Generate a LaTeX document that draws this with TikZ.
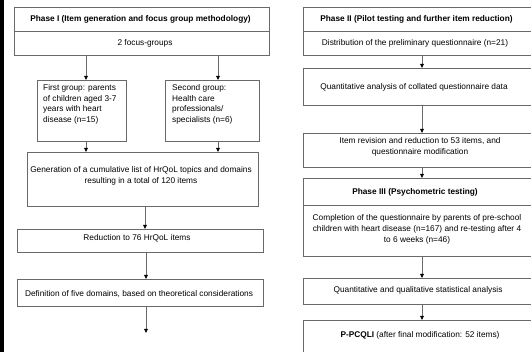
\documentclass[tikz,border=0pt]{standalone}
\usepackage{fontspec}
\setmainfont{Liberation Sans}
\usetikzlibrary{arrows.meta}
\definecolor{boxgray}{RGB}{105,105,105}
\begin{document}
\begin{tikzpicture}[x=1pt,y=-1pt,
  box/.style={draw=boxgray, line width=0.8pt, inner sep=0pt, anchor=north west},
  txt/.style={font=\fontsize{8.3}{11}\selectfont, align=center, inner sep=0pt},
  ltxt/.style={font=\fontsize{8.3}{10.6}\selectfont, align=left, inner sep=0pt, anchor=north west},
  divline/.style={draw=boxgray, line width=0.8pt},
  arr/.style={draw=boxgray, line width=0.8pt, -{Triangle[length=4pt,width=3.6pt,color=black]}}]
\useasboundingbox (0,0) rectangle (531,352);
\fill[black] (0,0) rectangle (4,352);
% ---------- left column ----------
\node[box, minimum width=255pt, minimum height=48pt] (p1) at (14,7) {};
\coordinate (d1) at (0,31);
\draw[divline] (p1.west |- d1) -- (p1.east |- d1);
\node[txt] (p1t) at (140.5,19) {\bfseries Phase I (Item generation and focus group methodology)};
\node[txt] (p1s) at (145,43) {2 focus-groups};
\node[box, minimum width=89pt, minimum height=61pt] (g1) at (37,80) {};
\node[ltxt] (g1t) at (43,84.5) {First group: parents\\of children aged 3-7\\years with heart\\disease (n=15)};
\node[box, minimum width=94pt, minimum height=61pt] (g2) at (165,80) {};
\node[ltxt] (g2t) at (172,84.5) {Second group:\\Health care\\professionals/\\specialists (n=6)};
\node[box, minimum width=231pt, minimum height=54pt] (gen) at (27,152) {};
\node[txt] (gent) at (141,175.5) {Generation of a cumulative list of HrQoL topics and domains\\resulting in a total of 120 items};
\node[box, minimum width=246pt, minimum height=23pt] (red) at (17,229) {};
\node[txt] (redt) at (137,238) {Reduction to 76 HrQoL items};
\node[box, minimum width=246pt, minimum height=27pt] (def) at (17,279) {};
\node[txt] (deft) at (139,294) {Definition of five domains, based on theoretical considerations};
\coordinate (ax1) at (86,0);
\coordinate (ax2) at (218,0);
\coordinate (ax3) at (145,0);
\coordinate (ax4) at (146,0);
\coordinate (lend) at (146,333);
\draw[arr] (p1.south -| ax1) -- (g1.north -| ax1);
\draw[arr] (p1.south -| ax2) -- (g2.north -| ax2);
\draw[arr] (g1.south -| ax1) -- (gen.north -| ax1);
\draw[arr] (g2.south -| ax2) -- (gen.north -| ax2);
\draw[arr] (gen.south -| ax3) -- (red.north -| ax3);
\draw[arr] (red.south -| ax4) -- (def.north -| ax4);
\draw[arr] (def.south -| ax4) -- (lend);
% ---------- right column ----------
\node[box, minimum width=233pt, minimum height=48pt] (p2) at (303,7) {};
\draw[divline] (p2.west |- d1) -- (p2.east |- d1);
\node[txt] (p2t) at (416.5,19) {\bfseries Phase II (Pilot testing and further item reduction)};
\node[txt] (p2s) at (415,43) {Distribution of the preliminary questionnaire (n=21)};
\node[box, minimum width=233pt, minimum height=37pt] (qa) at (303,68) {};
\node[txt] (qat) at (414,87) {Quantitative analysis of collated questionnaire data};
\node[box, minimum width=233pt, minimum height=34pt] (ir) at (303,133) {};
\node[txt] (irt) at (420,147) {Item revision and reduction to 53 items, and\\questionnaire modification};
\node[box, minimum width=233pt, minimum height=78pt] (p3) at (303,178) {};
\coordinate (d3) at (0,205);
\draw[divline] (p3.west |- d3) -- (p3.east |- d3);
\node[txt] (p3t) at (415,192) {\bfseries Phase III (Psychometric testing)};
\node[txt] (p3s) at (417,229.5) {Completion of the questionnaire by parents of pre-school\\children with heart disease (n=167) and re-testing after 4\\to 6 weeks (n=46)};
\node[box, minimum width=233pt, minimum height=26pt] (qq) at (303,278) {};
\node[txt] (qqt) at (418,290.5) {Quantitative and qualitative statistical analysis};
\node[box, minimum width=233pt, minimum height=45pt] (pp) at (303,320) {};
\node[txt] (ppt) at (420,335) {\bfseries P-PCQLI\mdseries{} (after final modification: 52 items)};
\coordinate (bx) at (422,0);
\draw[arr] (p2.south -| bx) -- (qa.north -| bx);
\draw[arr] (qa.south -| bx) -- (ir.north -| bx);
\draw[arr] (ir.south -| bx) -- (p3.north -| bx);
\draw[arr] (p3.south -| bx) -- (qq.north -| bx);
\draw[arr] (qq.south -| bx) -- (pp.north -| bx);
\end{tikzpicture}
\end{document}
